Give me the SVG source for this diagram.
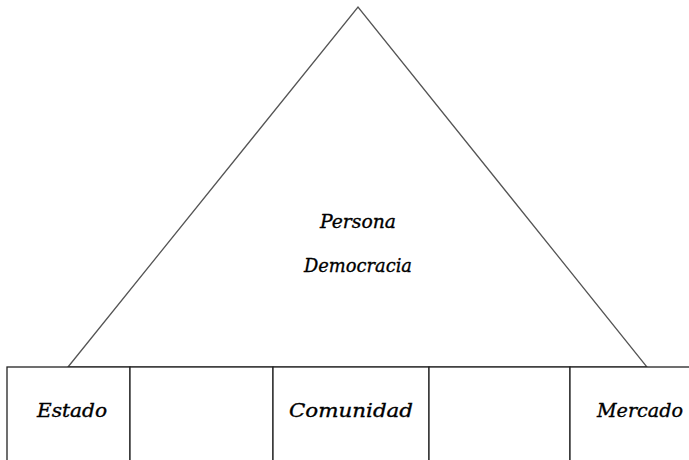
<svg xmlns="http://www.w3.org/2000/svg" width="689" height="460" viewBox="0 0 689 460">
<style>
.ln{fill:none;stroke:#555;stroke-width:1.3}
.bx{fill:#fff;stroke:#222;stroke-width:1.3}
.t{font-family:'DejaVu Serif','Liberation Serif',serif;font-style:italic;font-size:19px;fill:#000;stroke:#000;stroke-width:0.35;text-anchor:middle}
</style>
<rect width="689" height="460" fill="#fff"/>
<g id="triangle">
<polygon class="ln" points="68,367 358,7 647,367"/>
<text class="t" x="358" y="228" textLength="76" lengthAdjust="spacingAndGlyphs">Persona</text>
<text class="t" x="358" y="272" textLength="108" lengthAdjust="spacingAndGlyphs">Democracia</text>
</g>
<g id="boxes">
<g id="estado"><rect class="bx" x="7" y="367" width="123" height="100"/><text class="t" x="72" y="417" textLength="70" lengthAdjust="spacingAndGlyphs">Estado</text></g>
<g id="gap1"><rect class="bx" x="130" y="367" width="143" height="100"/></g>
<g id="comunidad"><rect class="bx" x="273" y="367" width="156" height="100"/><text class="t" x="351" y="417" textLength="124" lengthAdjust="spacingAndGlyphs">Comunidad</text></g>
<g id="gap2"><rect class="bx" x="429" y="367" width="141" height="100"/></g>
<g id="mercado"><rect class="bx" x="570" y="367" width="130" height="100"/><text class="t" x="640" y="417" textLength="86" lengthAdjust="spacingAndGlyphs">Mercado</text></g>
</g>
</svg>
